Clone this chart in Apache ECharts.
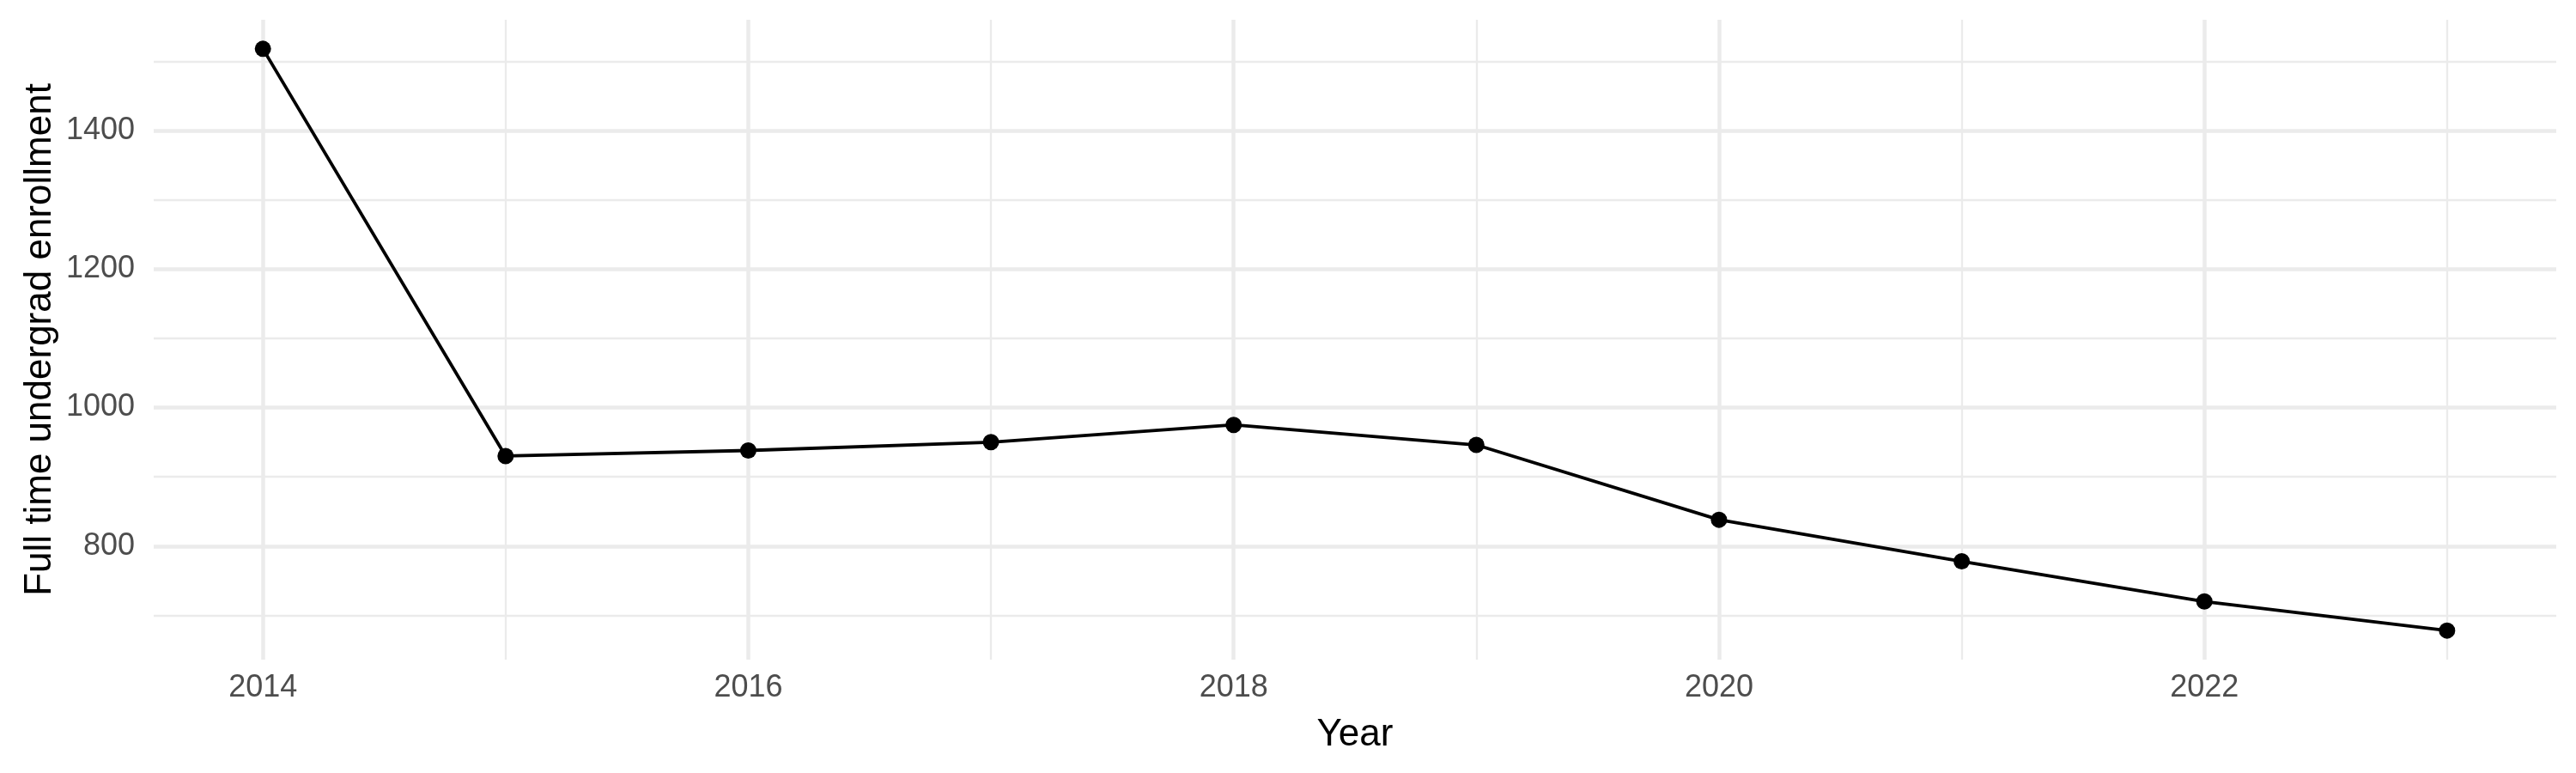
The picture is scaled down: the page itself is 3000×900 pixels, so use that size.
<!DOCTYPE html>
<html>
<head>
<meta charset="utf-8">
<script src="https://cdn.jsdelivr.net/npm/echarts@6/dist/echarts.min.js"></script>
<style>
html,body{margin:0;padding:0;background:#fff;}
#chart{width:3000px;height:900px;}
</style>
</head>
<body>
<div id="chart"></div>
<script>
// ---- data ----
const years = [2014, 2015, 2016, 2017, 2018, 2019, 2020, 2021, 2022, 2023];
const enrollment = [1518, 930, 938, 950, 975, 946, 838, 778, 720, 678];
const xTitle = 'Year';
const yTitle = 'Full time undergrad enrollment';
const yMajor = [800, 1400, 200];   // min, max, step of labelled lines
const yMinor = [700, 1500, 200];   // min, max, step of minor lines
const xMajor = [2014, 2022, 2];
const xMinor = [2015, 2023, 2];

// ---- layout (ggplot-like panel with 5% expansion) ----
const panel = {left: 179, top: 23, width: 2798, height: 745};
const xLo = Math.min(...years), xHi = Math.max(...years);
const yLo = Math.min(...enrollment), yHi = Math.max(...enrollment);
const xMin = xLo - 0.05 * (xHi - xLo), xMax = xHi + 0.05 * (xHi - xLo);
const yMin = yLo - 0.05 * (yHi - yLo), yMax = yHi + 0.05 * (yHi - yLo);
const px = x => panel.left + (x - xMin) / (xMax - xMin) * panel.width;
const py = v => panel.top + (yMax - v) / (yMax - yMin) * panel.height;

const FONT = 'Liberation Sans, Arial, Helvetica, sans-serif';
const GRID_COLOR = '#EBEBEB';
const MAJOR_W = 4.5, MINOR_W = 2.3;
const plain = v => String(v);

const grids = [
  {left: panel.left, top: panel.top, width: panel.width, height: panel.height},
  {left: panel.left, width: panel.width, top: py(yMajor[1]), height: py(yMajor[0]) - py(yMajor[1])},
  {left: panel.left, width: panel.width, top: py(yMinor[1]), height: py(yMinor[0]) - py(yMinor[1])},
  {top: panel.top, height: panel.height, left: px(xMajor[0]), width: px(xMajor[1]) - px(xMajor[0])},
  {top: panel.top, height: panel.height, left: px(xMinor[0]), width: px(xMinor[1]) - px(xMinor[0])}
];

const off = {show: false};
const option = {
  animation: false,
  backgroundColor: '#ffffff',
  grid: grids.map(g => Object.assign({containLabel: false}, g)),
  xAxis: [
    {gridIndex: 0, type: 'value', min: xMin, max: xMax,
     axisLine: off, axisTick: off, axisLabel: off, splitLine: off,
     name: xTitle, nameLocation: 'middle', nameGap: 66,
     nameTextStyle: {fontFamily: FONT, fontSize: 44, color: '#000'}},
    {gridIndex: 1, type: 'value', show: false},
    {gridIndex: 2, type: 'value', show: false},
    {gridIndex: 3, type: 'value', min: xMajor[0], max: xMajor[1], interval: xMajor[2],
     axisLine: off, axisTick: off,
     axisLabel: {show: true, margin: 15, fontFamily: FONT, fontSize: 36, color: '#4D4D4D', formatter: plain},
     splitLine: {show: true, lineStyle: {color: GRID_COLOR, width: MAJOR_W}}},
    {gridIndex: 4, type: 'value', min: xMinor[0], max: xMinor[1], interval: xMinor[2],
     axisLine: off, axisTick: off, axisLabel: off,
     splitLine: {show: true, lineStyle: {color: GRID_COLOR, width: MINOR_W}}}
  ],
  yAxis: [
    {gridIndex: 0, type: 'value', min: yMin, max: yMax,
     axisLine: off, axisTick: off, axisLabel: off, splitLine: off,
     name: yTitle, nameLocation: 'middle', nameGap: 110, nameRotate: 90,
     nameTextStyle: {fontFamily: FONT, fontSize: 44, color: '#000'}},
    {gridIndex: 1, type: 'value', min: yMajor[0], max: yMajor[1], interval: yMajor[2],
     axisLine: off, axisTick: off,
     axisLabel: {show: true, margin: 22, fontFamily: FONT, fontSize: 36, color: '#4D4D4D', formatter: plain},
     splitLine: {show: true, lineStyle: {color: GRID_COLOR, width: MAJOR_W}}},
    {gridIndex: 2, type: 'value', min: yMinor[0], max: yMinor[1], interval: yMinor[2],
     axisLine: off, axisTick: off, axisLabel: off,
     splitLine: {show: true, lineStyle: {color: GRID_COLOR, width: MINOR_W}}},
    {gridIndex: 3, type: 'value', show: false},
    {gridIndex: 4, type: 'value', show: false}
  ],
  series: [{
    type: 'line',
    xAxisIndex: 0, yAxisIndex: 0,
    data: years.map((y, i) => [y, enrollment[i]]),
    symbol: 'circle', symbolSize: 19, showSymbol: true,
    lineStyle: {color: '#000', width: 3.8},
    itemStyle: {color: '#000', borderWidth: 0},
    clip: false,
    z: 5
  }]
};

const chart = echarts.init(document.getElementById('chart'), null, {renderer: 'canvas'});
chart.setOption(option);
</script>
</body>
</html>
